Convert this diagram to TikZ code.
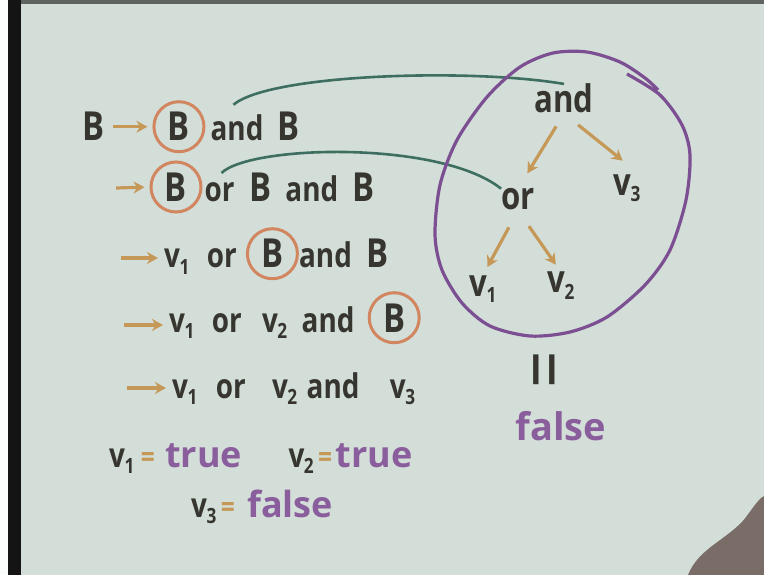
\documentclass[tikz,border=0pt]{standalone}
\usepackage{fontspec}
\setmainfont{Open Sans}[FakeStretch=0.82]
\newfontfamily\wideface{Open Sans}
\usetikzlibrary{positioning,arrows.meta}

\definecolor{board}{HTML}{D3DED8}
\definecolor{ink}{HTML}{36352F}
\definecolor{ring}{HTML}{D18660}
\definecolor{arrowtan}{HTML}{C69858}
\definecolor{grove}{HTML}{3E6E60}
\definecolor{plum}{HTML}{7C4F93}
\definecolor{lilac}{HTML}{8A5E9C}
\definecolor{handc}{HTML}{7A6C66}

\newcommand\vsub[1]{v\kern-0.5pt\raisebox{-6pt}{\fontsize{21}{21}\selectfont#1}}

\begin{document}
\begin{tikzpicture}[
    x=1pt, y=1pt,
    wd/.style={inner sep=0pt, text=ink, font=\bfseries\fontsize{34}{34}\selectfont},
    bigb/.style={wd, font=\bfseries\fontsize{40}{40}\selectfont},
    tw/.style={wd, font=\bfseries\fontsize{38}{38}\selectfont},
    cb/.style={
        circle,
        draw=ring,
        line width=3pt,
        minimum size=50pt,
        inner sep=0pt,
        text=ink,
        font=\bfseries\fontsize{40}{40}\selectfont
    },
    tf/.style={inner sep=0pt, text=lilac, font=\wideface\bfseries\fontsize{36}{36}\selectfont},
    eqs/.style={inner sep=0pt, text=arrowtan, font=\bfseries\fontsize{30}{30}\selectfont},
    darr/.style={-{Stealth[length=11pt,width=12pt]}, draw=arrowtan, line width=3.2pt},
    link/.style={draw=grove, line width=2.6pt}
]

\fill[board] (0,0) rectangle (764,-575);
\useasboundingbox (0,0) rectangle (764,-575);
\fill[white!92!board] (0,0) rectangle (8,-575);
\fill[black!92] (8,0) rectangle (21,-575);
\fill[black!55!board] (21,0) rectangle (764,-4);
\fill[handc] (688,-575) .. controls (698,-550) and (722,-542) .. (742,-522)
    .. controls (752,-510) and (757,-500) .. (764,-496) -- (764,-575) -- cycle;

\node[bigb, anchor=base west] (l1b) at (82,-141) {B};
\node[cb, base right=48pt of l1b] (l1c) {B};
\node[wd, base right=5pt of l1c] (l1and) {and};
\node[bigb, base right=14pt of l1and] (l1e) {B};
\draw[darr, shorten <=9pt, shorten >=5pt] (l1b) -- (l1c);

\node[cb] (l2c) at (176,-187) {B};
\node[wd, base right=2pt of l2c] (l2or) {or};
\node[bigb, base right=14pt of l2or] (l2b) {B};
\node[wd, base right=14pt of l2b] (l2and) {and};
\node[bigb, base right=14pt of l2and] (l2e) {B};
\coordinate (s2) at (116,-188);
\draw[darr, shorten >=5pt] (s2) -- (l2c.west);

\node[wd, anchor=base west] (l3v) at (164,-268) {\vsub1};
\node[wd, base right=17pt of l3v] (l3or) {or};
\node[cb, base right=9pt of l3or] (l3c) {B};
\node[wd, base right=0pt of l3c] (l3and) {and};
\node[bigb, base right=14pt of l3and] (l3e) {B};
\coordinate (s3) at (121,-258);
\draw[darr, shorten >=6pt] (s3) -- (s3 -| l3v.west);

\node[wd, anchor=base west] (l4v) at (169,-332) {\vsub1};
\node[wd, base right=17pt of l4v] (l4or) {or};
\node[wd, base right=20pt of l4or] (l4v2) {\vsub2};
\node[wd, base right=14pt of l4v2] (l4and) {and};
\node[cb, base right=13pt of l4and] (l4c) {B};
\coordinate (s4) at (124,-325);
\draw[darr, shorten >=6pt] (s4) -- (s4 -| l4v.west);

\node[wd, anchor=base west] (l5v) at (172,-398) {\vsub1};
\node[wd, base right=18pt of l5v] (l5or) {or};
\node[wd, base right=26pt of l5or] (l5v2) {\vsub2};
\node[wd, base right=9pt of l5v2] (l5and) {and};
\node[wd, base right=30pt of l5and] (l5v3) {\vsub3};
\coordinate (s5) at (127,-388);
\draw[darr, shorten >=6pt] (s5) -- (s5 -| l5v.west);

\node[wd, anchor=base west] (l6v) at (109,-467) {\vsub1};
\node[eqs, base right=6pt of l6v] (l6eq) {=};
\node[tf, base right=10pt of l6eq] (l6t) {true};
\node[wd, base right=46pt of l6t] (l6v2) {\vsub2};
\node[eqs, base right=4pt of l6v2] (l6eq2) {=};
\node[tf, base right=3pt of l6eq2] (l6t2) {true};

\node[wd, anchor=base west] (l7v) at (191,-517) {\vsub3};
\node[eqs, base right=4pt of l7v] (l7eq) {=};
\node[tf, base right=12pt of l7eq] (l7f) {false};

\node[tw, anchor=base] (tand) at (564,-113) {and};
\node[tw, anchor=base] (tor) at (518,-210) {or};
\node[tw, anchor=base] (tv3) at (627,-196) {\vsub3};
\node[tw, anchor=base] (tv1) at (483,-296) {\vsub1};
\node[tw, anchor=base] (tv2) at (561,-293) {\vsub2};
\node[wd, rotate=90, font=\fontsize{80}{80}\selectfont] (teq) at (553,-370) {=};
\node[tf, font=\wideface\bfseries\fontsize{38}{38}\selectfont, anchor=base] (tres) at (561,-440) {false};

\draw[darr, shorten <=15pt, shorten >=18pt] (tand.south) -- (tor.north);
\draw[darr, shorten <=18pt, shorten >=23pt] (tand.south) -- (tv3.north east);
\draw[darr, shorten <=19pt, shorten >=9pt] (tor.south) -- (tv1.north);
\draw[darr, shorten <=19pt, shorten >=9pt] (tor.south) -- (tv2.north);

\draw[link] ([shift={(28,22)}]l1c.east) .. controls (270,-74) and (470,-68) .. (tand.north);
\draw[link] ([shift={(19,14)}]l2c.east) .. controls (250,-145) and (440,-140) .. (tor.north west);

\draw[plum, line width=3.2pt] plot[smooth] coordinates {
    (627,-74) (660,-95) (682,-125) (690,-155) (686,-200) (670,-250)
    (645,-285) (607,-317) (570,-332) (530,-336) (490,-326) (462,-303)
    (442,-270) (435,-235) (440,-185) (457,-140) (487,-97) (520,-67)
    (553,-53) (587,-52) (620,-62) (645,-78) (658,-90)};

\end{tikzpicture}
\end{document}
